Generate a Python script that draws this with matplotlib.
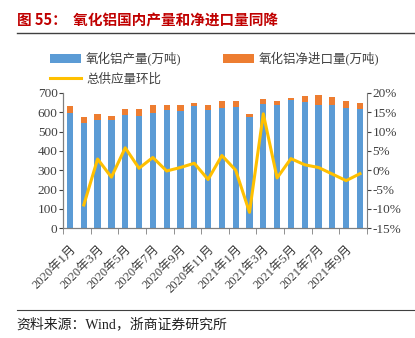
import matplotlib
matplotlib.use("Agg")
import matplotlib.pyplot as plt
import numpy as np
from matplotlib.ticker import FuncFormatter, MultipleLocator

plt.rcParams['font.family'] = ['Liberation Serif', 'Noto Sans CJK SC', 'DejaVu Sans']

# data
months = ["2020年1月", "2020年2月", "2020年3月", "2020年4月", "2020年5月", "2020年6月",
          "2020年7月", "2020年8月", "2020年9月", "2020年10月", "2020年11月", "2020年12月",
          "2021年1月", "2021年2月", "2021年3月", "2021年4月", "2021年5月", "2021年6月",
          "2021年7月", "2021年8月", "2021年9月", "2021年10月"]
output = [597, 542, 559, 559, 586, 581, 597, 614, 604, 633, 612, 621,
          628, 573, 645, 636, 662, 655, 636, 640, 624, 619]
net_import = [34, 31, 33, 22, 30, 36, 43, 24, 36, 17, 24, 38,
              32, 17, 26, 21, 12, 28, 52, 39, 35, 29]
# supply mom change (%), starts 2020-02
mom = [-9.0, 2.9, -1.8, 5.8, 0.5, 3.3, -0.2, 0.7, 1.8, -2.4, 3.8,
       0.0, -10.9, 14.6, -2.0, 3.0, 1.4, 0.7, -1.0, -2.7, -0.9]

blue = "#5B9BD5"
orange = "#ED7D31"
yellow = "#FFC000"
grey = "#404040"

fig = plt.figure(figsize=(4.15, 3.38), dpi=100)
ax = fig.add_axes([0.152, 0.325, 0.732, 0.40])
x = np.arange(len(months))

b1 = ax.bar(x, output, width=0.45, color=blue, label="氧化铝产量(万吨)")
b2 = ax.bar(x, net_import, width=0.45, bottom=output, color=orange, label="氧化铝净进口量(万吨)")
ax.set_ylim(0, 700)
ax.set_xlim(-0.5, len(months) - 0.5)
ax.yaxis.set_major_locator(MultipleLocator(100))

ax2 = ax.twinx()
l1, = ax2.plot(x[1:], mom, color=yellow, lw=2.2, label="总供应量环比")
ax2.set_ylim(-15, 20)
ax2.yaxis.set_major_locator(MultipleLocator(5))
ax2.yaxis.set_major_formatter(FuncFormatter(lambda v, p: f"{v:.0f}%"))

for a in (ax, ax2):
    a.spines['top'].set_visible(False)
    for s in a.spines.values():
        s.set_color("#7F7F7F")
    a.tick_params(axis='y', labelsize=9.5, colors=grey, length=3, direction='out', pad=1)
ax.spines['right'].set_visible(False)

ax.set_xticks(x[::2])
ax.set_xticklabels(months[::2], rotation=45, ha='right', rotation_mode='anchor', fontsize=9, color=grey)
ax.set_xticks(np.arange(-0.5, len(months), 2), minor=True)
ax.tick_params(axis='x', which='major', length=0, pad=11)
ax.tick_params(axis='x', which='minor', length=4, color="#7F7F7F")

# column-wise fill: b1, l1 in first column, b2 in second
fig.legend(handles=[b1, l1, b2], ncol=2, loc='upper left', bbox_to_anchor=(0.093, 0.88),
           frameon=False, fontsize=9, handlelength=2.5, handleheight=0.75,
           columnspacing=3.3, labelspacing=0.6, handletextpad=0.4, labelcolor=grey)

fig.text(0.04, 0.94, "图 55：  氧化铝国内产量和净进口量同降", fontsize=10.5, fontweight='bold',
         color="#C00000", va='center', family=['Noto Sans CJK SC', 'DejaVu Sans'])
fig.add_artist(plt.Line2D([0.04, 1.0], [0.902, 0.902], color="#404040", lw=1))
fig.add_artist(plt.Line2D([0.04, 1.0], [0.083, 0.083], color="#404040", lw=0.8))
fig.text(0.04, 0.04, "资料来源：Wind，浙商证券研究所", fontsize=10, color="#202020", va='center')

fig.savefig("out.png", dpi=100)
